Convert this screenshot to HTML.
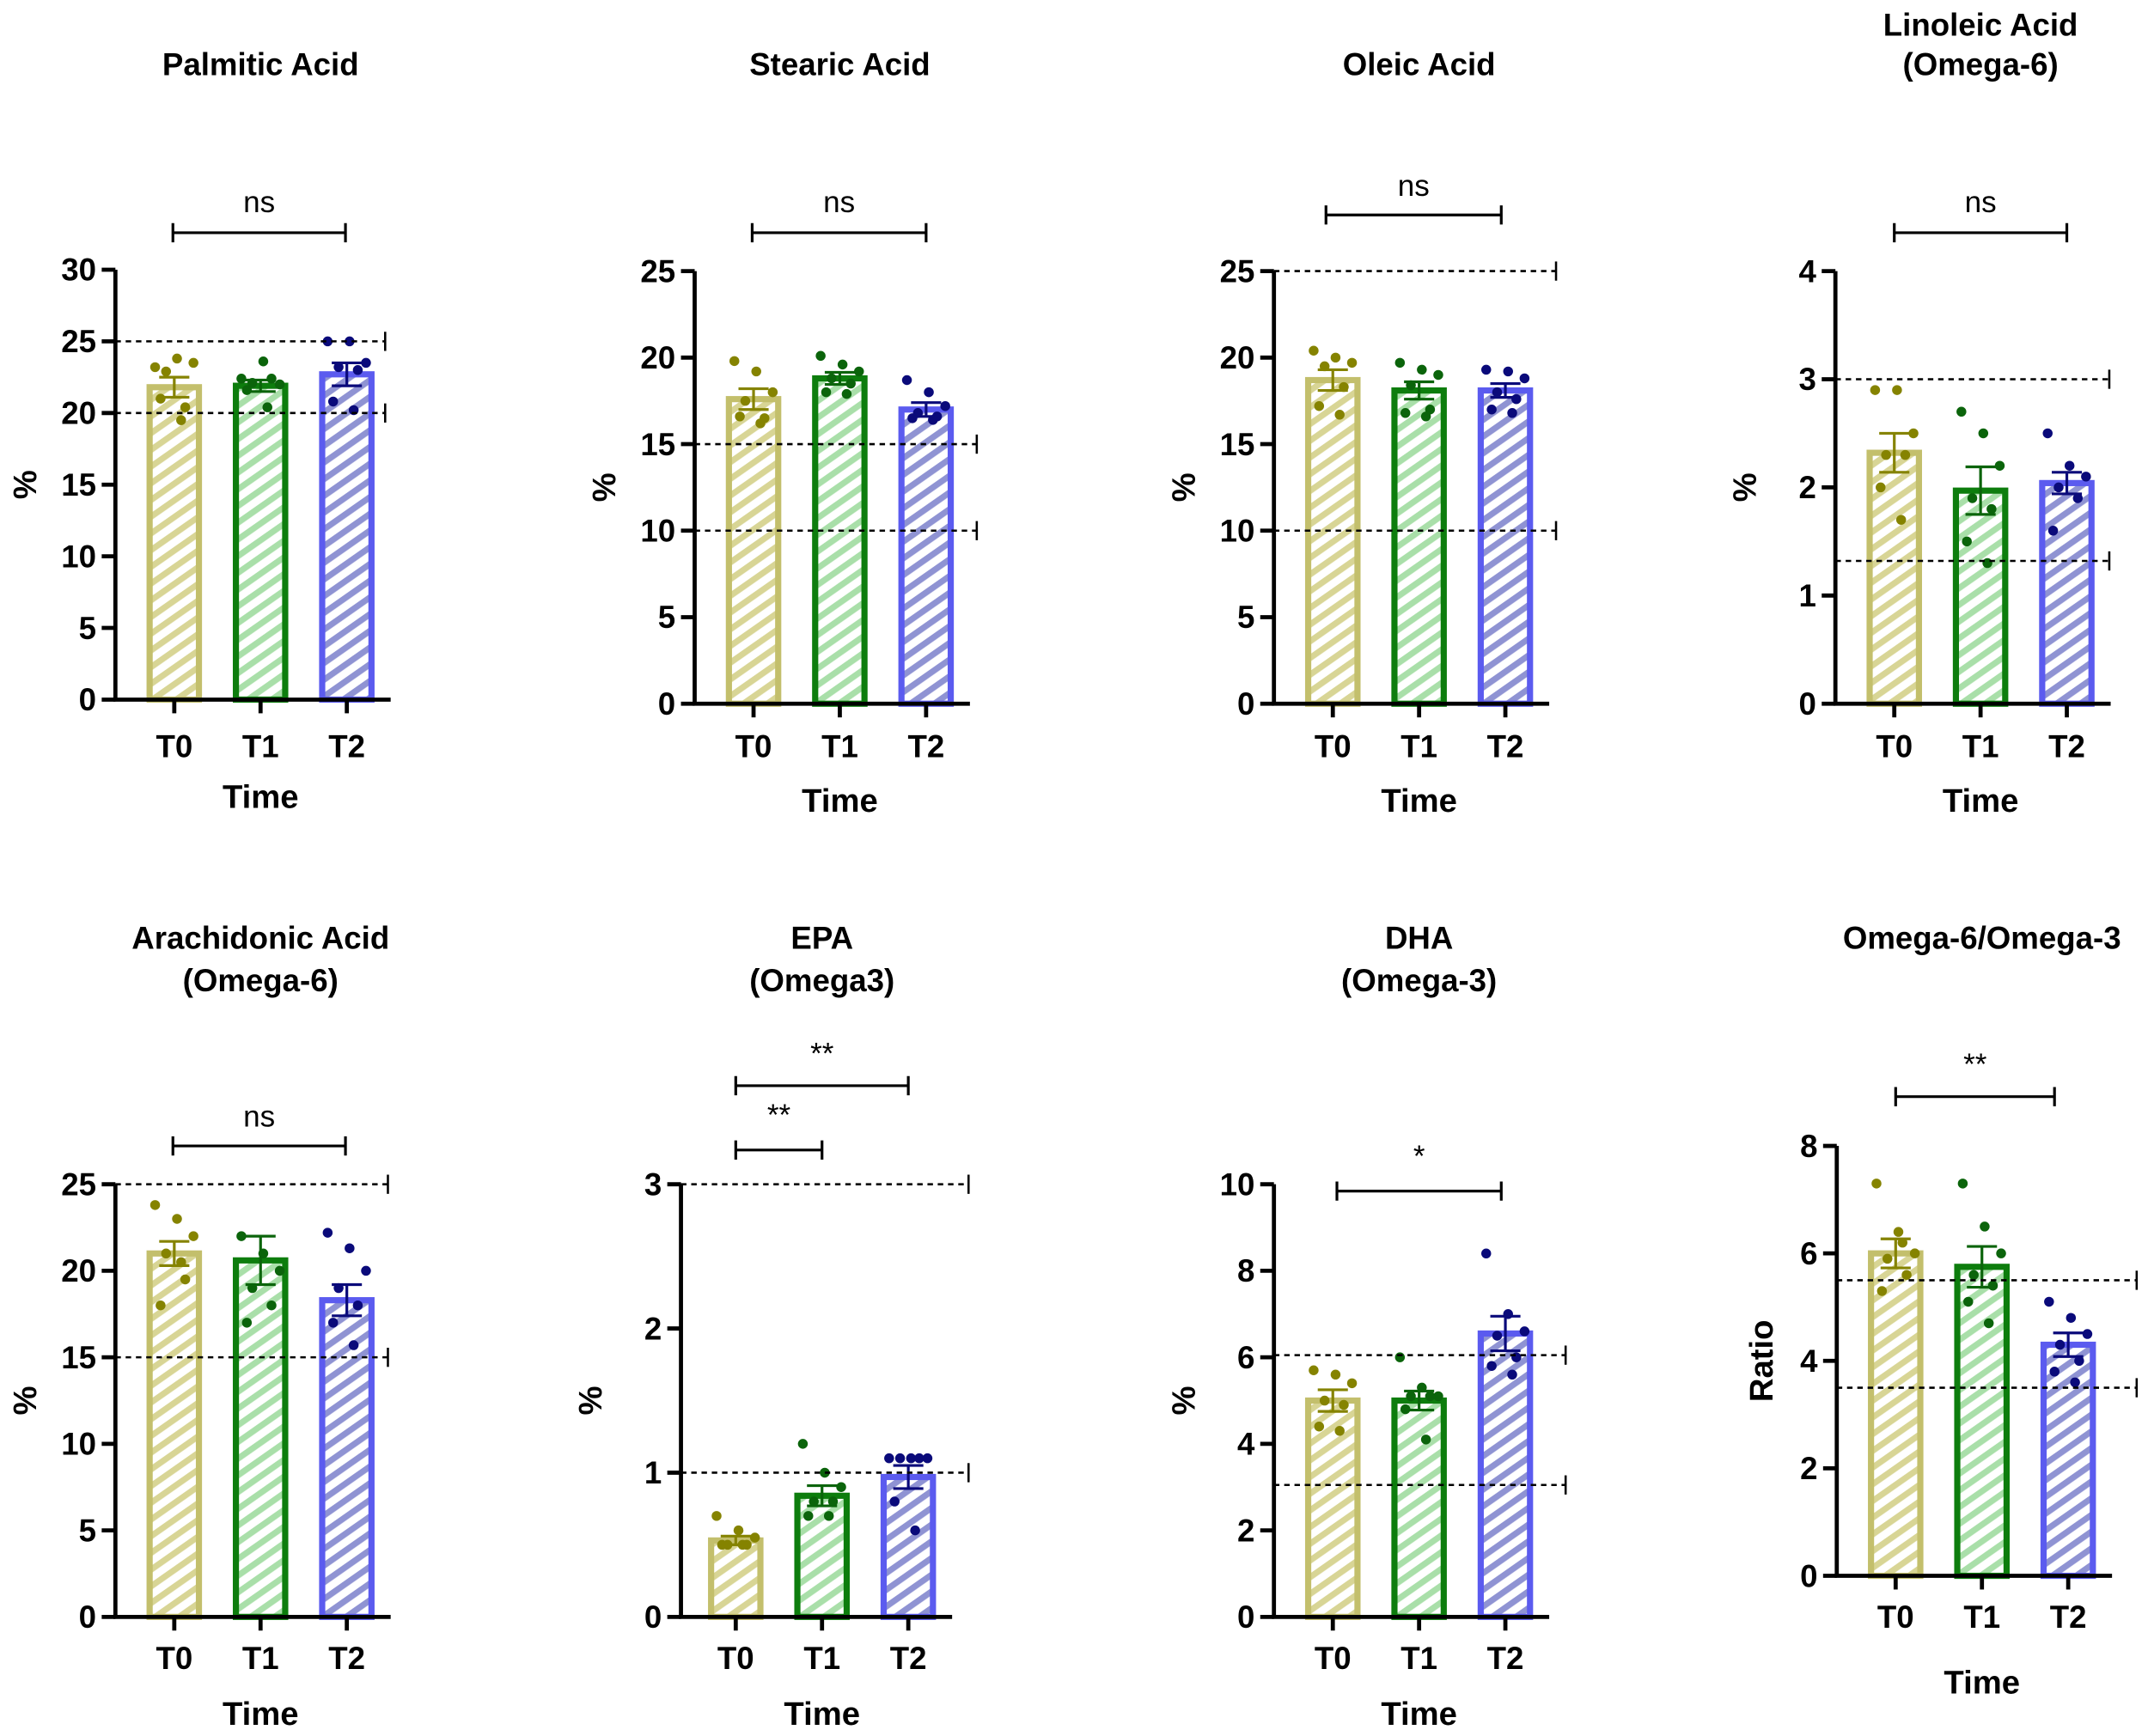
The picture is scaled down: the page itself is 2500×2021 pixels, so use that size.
<!DOCTYPE html>
<html><head><meta charset="utf-8"><style>
html,body{margin:0;padding:0;background:#fff}
svg{display:block}
text{font-family:"Liberation Sans",Arial,sans-serif}
</style></head><body>
<svg id="s" width="2500" height="2021" viewBox="0 0 1568 1268" xmlns="http://www.w3.org/2000/svg">
<defs>
<pattern id="h0" patternUnits="userSpaceOnUse" width="10" height="10" patternTransform="rotate(-35)"><rect width="10" height="10" fill="#fff"/><rect width="10" height="4.5" fill="#d8d595"/></pattern>
<pattern id="h1" patternUnits="userSpaceOnUse" width="10" height="10" patternTransform="rotate(-35)"><rect width="10" height="10" fill="#fff"/><rect width="10" height="4.5" fill="#a9dfa9"/></pattern>
<pattern id="h2" patternUnits="userSpaceOnUse" width="10" height="10" patternTransform="rotate(-35)"><rect width="10" height="10" fill="#fff"/><rect width="10" height="4.5" fill="#8f93d3"/></pattern>
</defs>
</svg>
<script>
const S=document.getElementById('s');let h='';
const oc=['#c3bf6c','#0d7d0d','#5b5bef'],dc=['#858300','#0b640b','#0a0a7a'];
const P=[
{ax:84,y0:511,yt:197,max:30,step:5,bx:[127,190,253],xe:281,dash:[25,20],t:['Palmitic Acid'],ty:[47],sig:[['ns',147,170,126,252]],m:[21.8,21.9,22.7],se:[0.7,0.4,0.8],v:[[23.2,23.8,23.5,22.9,20.4,21.0,19.5],[22.4,23.6,22.0,22.1,22.4,21.6,20.4],[25,25,23.5,23.2,23.0,20.8,20.2]],lab:[545,581],yl:'%'},
{ax:507,y0:514,yt:198,max:25,step:5,bx:[550,613,676],xe:713,dash:[15,10],t:['Stearic Acid'],ty:[47],sig:[['ns',147,170,549,676]],m:[17.6,18.8,17.0],se:[0.6,0.35,0.4],v:[[19.8,19.2,18.0,17.5,16.5,16.6,16.2],[20.1,19.6,19.2,18.8,18.5,18.0,17.9],[18.7,18.0,17.2,16.8,16.6,16.5,16.4]],lab:[545,584],yl:'%'},
{ax:930,y0:514,yt:198,max:25,step:5,bx:[973,1036,1099],xe:1136,dash:[25,10],t:['Oleic Acid'],ty:[47],sig:[['ns',135,157,968,1096]],m:[18.7,18.1,18.1],se:[0.6,0.5,0.4],v:[[20.4,20.0,19.7,19.5,18.3,17.2,16.7],[19.7,19.3,19.0,18.4,17.0,16.8,16.6],[19.3,19.2,18.8,18.0,17.6,17.0,16.8]],lab:[545,584],yl:'%'},
{ax:1340,y0:514,yt:198,max:4,step:1,bx:[1383,1446,1509],xe:1540,dash:[3,1.32],t:['Linoleic Acid','(Omega-6)'],ty:[18,47],sig:[['ns',147,170,1383,1509]],m:[2.32,1.97,2.04],se:[0.18,0.22,0.1],v:[[2.9,2.9,2.5,2.3,2.3,2.0,1.7],[2.7,2.5,2.2,1.9,1.8,1.5,1.3],[2.5,2.2,2.1,2.0,1.9,1.6]],lab:[545,584],yl:'%'},
{ax:84,y0:1181,yt:865,max:25,step:5,bx:[127,190,253],xe:283,dash:[25,15],t:['Arachidonic Acid','(Omega-6)'],ty:[685,716],sig:[['ns',815,837,126,252]],m:[21.0,20.6,18.3],se:[0.7,1.4,0.9],v:[[23.8,23.0,22.0,21.0,19.5,18.0,20.5],[22.0,21.0,20.0,19.0,18.0,17.0],[22.2,21.3,20.0,19.0,18.0,17.0,15.7]],lab:[1211,1251],yl:'%'},
{ax:497,y0:1181,yt:865,max:3,step:1,bx:[537,600,663],xe:707,dash:[3,1],t:['EPA','(Omega3)'],ty:[685,716],sig:[['**',765,793,537,663],['**',810,840,537,600]],m:[0.53,0.84,0.97],se:[0.03,0.07,0.08],v:[[.7,.6,.55,.5,.5,.5,.5],[1.2,1.0,.9,.8,.8,.7,.7],[1.1,1.1,1.1,1.1,1.1,.8,.6]],lab:[1211,1251],yl:'%'},
{ax:930,y0:1181,yt:865,max:10,step:2,bx:[973,1036,1099],xe:1143,dash:[6.05,3.05],t:['DHA','(Omega-3)'],ty:[685,716],sig:[['*',840,870,976,1096]],m:[5.0,5.0,6.55],se:[0.25,0.22,0.4],v:[[5.7,5.6,5.4,5.0,4.9,4.4,4.3],[6.0,5.3,5.1,5.1,5.1,4.8,4.1],[8.4,7.0,6.6,6.5,6.0,5.8,5.6]],lab:[1211,1251],yl:'%'},
{ax:1341,y0:1151,yt:837,max:8,step:2,bx:[1384,1447,1510],xe:1560,dash:[5.5,3.5],t:['Omega-6/Omega-3'],ty:[685],sig:[['**',773,801,1384,1500]],m:[6.0,5.75,4.3],se:[0.27,0.38,0.22],v:[[7.3,6.4,6.0,5.9,5.6,5.3,6.2],[7.3,6.5,6.0,5.6,5.4,5.1,4.7],[5.1,4.8,4.5,4.3,4.0,3.8,3.6]],lab:[1181,1228],yl:'Ratio'}
];
const jit=[-14,2,14,-6,8,-10,5];
P.forEach(p=>{
 const Y=v=>p.y0-(v/p.max)*(p.y0-p.yt);
 const xr=p.bx[2]+32;
 const cx=(p.bx[0]+p.bx[2])/2;
 p.t.forEach((t,i)=>h+=`<text x="${cx}" y="${p.ty[i]+8}" font-size="23" font-weight="bold" text-anchor="middle">${t}</text>`);
 p.v.forEach((a,i)=>{
  const m=p.m[i],se=p.se[i];
  const x=p.bx[i];
  h+=`<rect x="${x-18}" y="${Y(m)}" width="36" height="${p.y0-Y(m)}" fill="url(#h${i})" stroke="${oc[i]}" stroke-width="4.5"/>`;
  a.forEach((v,j)=>h+=`<circle cx="${x+jit[j]}" cy="${Y(v)}" r="3.6" fill="${dc[i]}"/>`);
  h+=`<path d="M${x} ${Y(m+se)}V${Y(m-se)}M${x-11} ${Y(m+se)}H${x+11}M${x-11} ${Y(m-se)}H${x+11}" stroke="${dc[i]}" stroke-width="2" fill="none"/>`;
 });
 p.dash.forEach(d=>{const y=Y(d);h+=`<path d="M${p.ax} ${y}H${p.xe}" stroke="#000" stroke-width="1.6" stroke-dasharray="4,3.5"/><path d="M${p.xe} ${y-7}V${y+7}" stroke="#000" stroke-width="1.6"/>`;});
 h+=`<path d="M${p.ax} ${p.yt}V${p.y0}H${xr}" stroke="#000" stroke-width="3" fill="none"/>`;
 for(let v=0;v<=p.max+1e-9;v+=p.step){const y=Y(v);h+=`<path d="M${p.ax-10} ${y}H${p.ax}" stroke="#000" stroke-width="3"/><text x="${p.ax-14}" y="${y+8}" font-size="23" font-weight="bold" text-anchor="end">${v}</text>`;}
 p.bx.forEach((x,i)=>h+=`<path d="M${x} ${p.y0}V${p.y0+10}" stroke="#000" stroke-width="3"/><text x="${x}" y="${p.lab[0]+8}" font-size="23" font-weight="bold" text-anchor="middle">T${i}</text>`);
 h+=`<text x="${cx}" y="${p.lab[1]+9}" font-size="24" font-weight="bold" text-anchor="middle">Time</text>`;
 const ly=(p.y0+p.yt)/2;const lx=p.yl=='%'?p.ax-58:p.ax-47;
 h+=`<text transform="translate(${lx},${ly}) rotate(-90)" font-size="24" font-weight="bold" text-anchor="middle">${p.yl}</text>`;
 p.sig.forEach(s=>{h+=`<text x="${(s[3]+s[4])/2}" y="${s[1]+ (s[0]=='ns'?8:12)}" font-size="22" text-anchor="middle">${s[0]}</text><path d="M${s[3]} ${s[2]}H${s[4]}M${s[3]} ${s[2]-7}V${s[2]+7}M${s[4]} ${s[2]-7}V${s[2]+7}" stroke="#000" stroke-width="2" fill="none"/>`;});
});
S.insertAdjacentHTML('beforeend',h);
</script>
</body></html>
